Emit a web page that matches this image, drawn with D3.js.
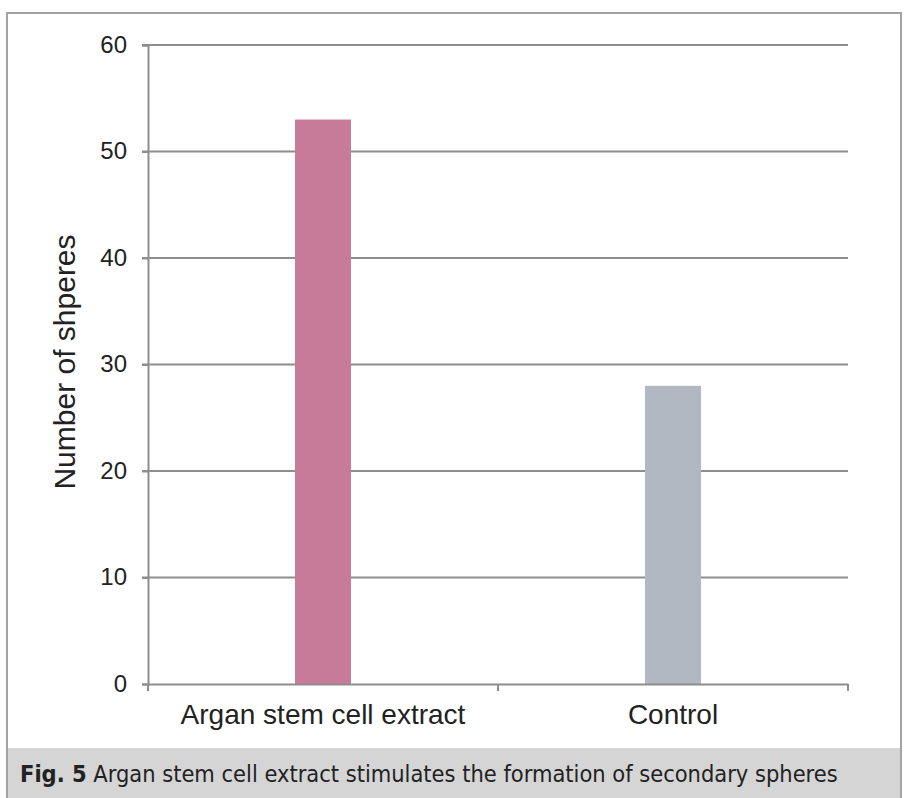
<!DOCTYPE html>
<html><head><meta charset="utf-8">
<script src="https://cdn.jsdelivr.net/npm/d3@7"></script>
<style>body{margin:0;background:#fff;}svg{display:block;}</style>
</head><body>
<script>
const categories = ["Argan stem cell extract", "Control"];
const values = [53, 28];
const barColors = ["#c77b99", "#b1b8c1"];
const yTicks = [0, 10, 20, 30, 40, 50, 60];
const yLabel = "Number of shperes";
const captionBold = "Fig. 5";
const captionText = " Argan stem cell extract stimulates the formation of secondary spheres";

(function () {
const W = 904, H = 798;
const svg = d3.select("body").append("svg").attr("width", W).attr("height", H);
const font = "'Liberation Sans', Arial, sans-serif";

svg.append("rect").attr("x", 7).attr("y", 13).attr("width", 894).attr("height", 800)
  .attr("fill", "#fff").attr("stroke", "#a3a3a3").attr("stroke-width", 2);
svg.append("rect").attr("x", 8).attr("y", 748).attr("width", 892).attr("height", 60).attr("fill", "#d5d5d5");

const pl = 148, pr = 848, pt = 45, pb = 684;
const x = d3.scaleBand().domain(categories).range([pl, pr]);
const y = d3.scaleLinear().domain([0, 60]).range([pb, pt]);

const g = svg.append("g");
g.selectAll("line.grid").data(yTicks.filter(d => d > 0)).join("line")
  .attr("class", "grid")
  .attr("x1", pl - 6).attr("x2", pr).attr("y1", d => y(d)).attr("y2", d => y(d))
  .attr("stroke", "#8e8e8e").attr("stroke-width", 2);

const yAxis = g.append("g").attr("transform", `translate(${pl},0)`)
  .call(d3.axisLeft(y).tickValues(yTicks).tickSize(6).tickPadding(15));
yAxis.select(".domain").attr("stroke", "#8e8e8e").attr("stroke-width", 2);
yAxis.selectAll(".tick line").attr("stroke", "#8e8e8e").attr("stroke-width", 2);
yAxis.selectAll(".tick text").attr("font-family", font)
  .attr("font-size", 24).attr("fill", "#222").attr("dy", "0.3em");

g.selectAll("rect.bar").data(values).join("rect")
  .attr("class", "bar")
  .attr("x", (d, i) => x(categories[i]) + x.bandwidth() / 2 - 28)
  .attr("width", 56)
  .attr("y", d => y(d)).attr("height", d => y(0) - y(d))
  .attr("fill", (d, i) => barColors[i]);

const xAxis = g.append("g").attr("transform", `translate(0,${pb})`)
  .call(d3.axisBottom(x).tickSize(0).tickPadding(20));
xAxis.select(".domain").attr("stroke", "#8e8e8e").attr("stroke-width", 2);
xAxis.selectAll(".tick text").attr("font-family", font)
  .attr("font-size", 28).attr("fill", "#222");
const bounds = [pl, pl + x.bandwidth(), pr];
g.selectAll("line.xt").data(bounds).join("line")
  .attr("class", "xt")
  .attr("x1", d => d).attr("x2", d => d).attr("y1", pb).attr("y2", pb + 7)
  .attr("stroke", "#8e8e8e").attr("stroke-width", 2);

svg.append("text").attr("transform", `translate(75,362) rotate(-90)`)
  .attr("text-anchor", "middle").attr("font-family", font)
  .attr("font-size", 30).attr("fill", "#222").text(yLabel);

const cap = svg.append("text").attr("x", 20).attr("y", 782)
  .attr("font-family", "'Liberation Sans Narrow', 'DejaVu Sans Condensed', sans-serif")
  .attr("font-size", 23.4).attr("fill", "#222");
cap.append("tspan").attr("font-weight", "bold").text(captionBold);
cap.append("tspan").text(captionText);
})();
</script>
</body></html>
